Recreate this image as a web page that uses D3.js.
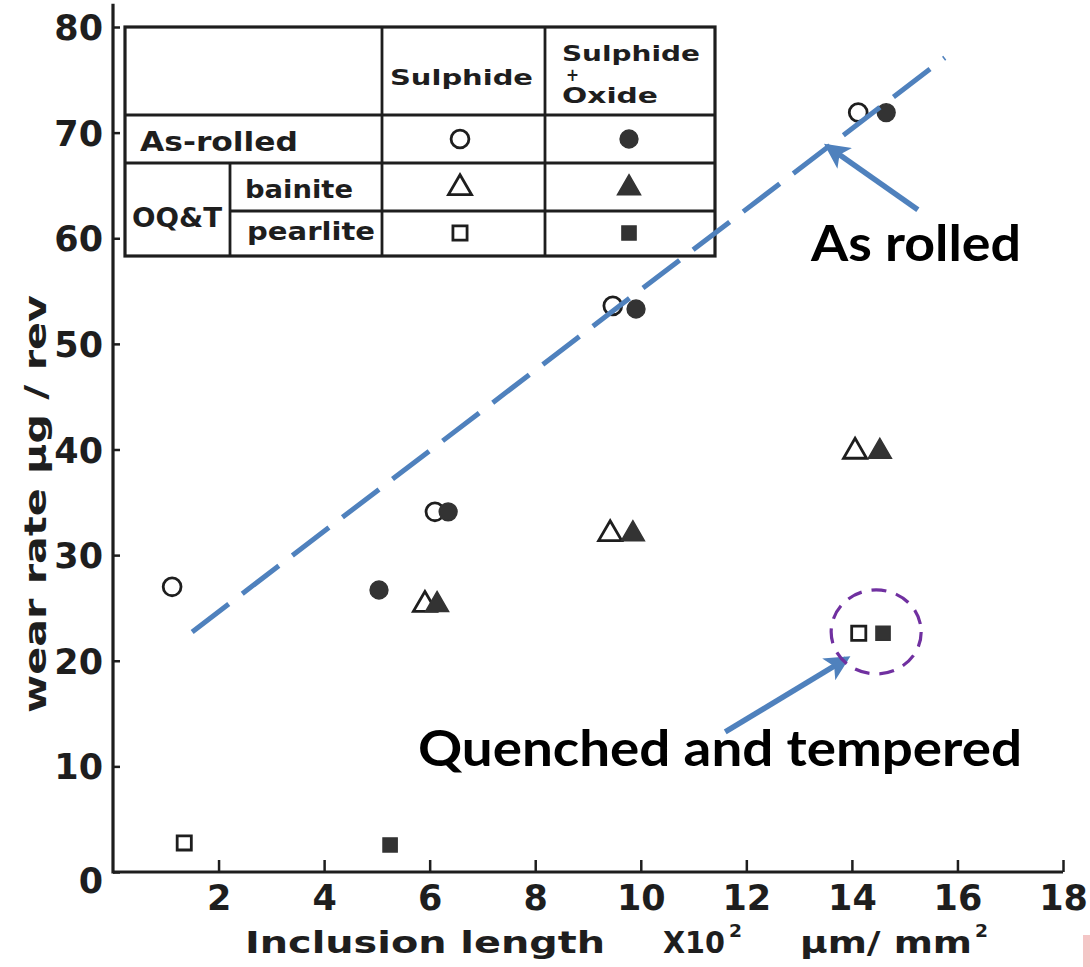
<!DOCTYPE html>
<html><head><meta charset="utf-8">
<script src="https://cdn.jsdelivr.net/npm/d3@7"></script>
<style>body{margin:0;background:#fff}svg{display:block}</style>
</head><body>
<svg id="c" width="1090" height="967"></svg>
<script>
// ---- data ----
const xTicks = [2, 4, 6, 8, 10, 12, 14, 16, 18];
const yTicks = [0, 10, 20, 30, 40, 50, 60, 70, 80];
const sulphideAsRolledX = [1.12, 6.1, 9.47, 14.12];
const sulphideAsRolledY = [27.0, 34.1, 53.6, 71.9];
const oxideAsRolledX = [5.04, 6.35, 9.91, 14.65];
const oxideAsRolledY = [26.7, 34.1, 53.3, 71.9];
const sulphideBainiteX = [5.91, 9.42, 14.06];
const sulphideBainiteY = [25.3, 32.0, 39.8];
const oxideBainiteX = [6.14, 9.85, 14.53];
const oxideBainiteY = [25.3, 32.0, 39.8];
const sulphidePearliteX = [1.35, 14.13];
const sulphidePearliteY = [2.75, 22.6];
const oxidePearliteX = [5.25, 14.59];
const oxidePearliteY = [2.56, 22.6];
const trendLine = [[1.50, 22.73], [15.76, 77.08]];
const asRolledArrow = [[15.25, 62.69], [13.55, 68.66]];
const qtArrow = [[11.6, 13.26], [13.89, 20.17]];
const qtCircle = [14.46, 22.73];
const legendRows = ["As-rolled", "bainite", "pearlite"];
const legendShapes = ["circle", "triangle", "square"];

// ---- scales ----
const svg = d3.select("#c");
const x = d3.scaleLinear([0, 18], [113, 1063]);
const y = d3.scaleLinear([0, 80], [872, 27]);
const ink = "#1e1e1e", fillInk = "#333";
const tickFont = "'DejaVu Sans', sans-serif";

svg.append("rect").attr("width", 1090).attr("height", 967).attr("fill", "#fff");
svg.append("rect").attr("x", 1083).attr("y", 935).attr("width", 7).attr("height", 32).attr("fill", "#f4c6c6");

// axes
const gx = svg.append("g").attr("transform", `translate(0,${y(0)})`)
  .call(d3.axisBottom(x).tickValues(xTicks).tickSize(-12).tickSizeOuter(0).tickPadding(13).tickFormat(d3.format("d")));
const gy = svg.append("g").attr("transform", `translate(${x(0)},0)`)
  .call(d3.axisLeft(y).tickValues(yTicks).tickSize(-7).tickSizeOuter(0).tickPadding(10).tickFormat(d3.format("d")));
[gx, gy].forEach(g => {
  g.select(".domain").remove();
  g.selectAll(".tick line").attr("stroke", ink).attr("stroke-width", 2.5);
  g.selectAll(".tick text").attr("fill", ink).style("font-family", tickFont)
    .style("font-weight", "bold").style("font-size", "35px");
});
gy.selectAll(".tick text").attr("dy", d => d === 0 ? "0.58em" : "0.36em");
svg.append("line").attr("x1", x(0)).attr("x2", x(18)).attr("y1", y(0)).attr("y2", y(0))
  .attr("stroke", ink).attr("stroke-width", 3.2);
svg.append("line").attr("x1", x(0)).attr("x2", x(0)).attr("y1", y(0) + 1.5).attr("y2", y(82.2))
  .attr("stroke", ink).attr("stroke-width", 3.2);

// axis titles
const lab = (t, px, py, len, size) => svg.append("text").attr("x", px).attr("y", py)
  .attr("fill", ink).style("font-family", tickFont).style("font-weight", "bold")
  .style("font-size", size + "px").attr("textLength", len).attr("lengthAdjust", "spacingAndGlyphs").text(t);
lab("Inclusion length", 245, 953, 360, 30);
lab("X10", 663, 953, 62, 31);
lab("2", 729, 937, 13, 18);
lab("µm/ mm", 800, 953, 172, 30);
lab("2", 975, 937, 13, 18);
svg.append("text").attr("transform", "translate(46,504) rotate(-90)").attr("text-anchor", "middle")
  .attr("fill", ink).style("font-family", tickFont).style("font-weight", "bold").style("font-size", "30px")
  .attr("textLength", 418).attr("lengthAdjust", "spacingAndGlyphs").text("wear  rate  µg / rev");

// markers
function sym(shape) {
  const t = shape === "circle" ? d3.symbolCircle : shape === "triangle" ? d3.symbolTriangle : d3.symbolSquare;
  const a = shape === "circle" ? 250 : shape === "triangle" ? 230 : 200;
  return d3.symbol(t, a)();
}
const series = [
  {xs: sulphideAsRolledX, ys: sulphideAsRolledY, shape: "circle", filled: false},
  {xs: oxideAsRolledX, ys: oxideAsRolledY, shape: "circle", filled: true},
  {xs: sulphideBainiteX, ys: sulphideBainiteY, shape: "triangle", filled: false},
  {xs: oxideBainiteX, ys: oxideBainiteY, shape: "triangle", filled: true},
  {xs: sulphidePearliteX, ys: sulphidePearliteY, shape: "square", filled: false},
  {xs: oxidePearliteX, ys: oxidePearliteY, shape: "square", filled: true}
];
function drawSym(g, shape, filled, px, py) {
  g.append("path").attr("d", sym(shape)).attr("transform", `translate(${px},${py})`)
    .attr("fill", filled ? fillInk : "#fff").attr("stroke", filled ? fillInk : ink)
    .attr("stroke-width", filled ? 1.5 : 2.8).attr("stroke-linejoin", "miter");
}
const gm = svg.append("g");
series.filter(s => !s.filled).concat(series.filter(s => s.filled)).forEach(s =>
  s.xs.forEach((v, i) => drawSym(gm, s.shape, s.filled, x(v), y(s.ys[i]))));

// legend table
const gl = svg.append("g").attr("stroke", ink).attr("fill", "none");
gl.append("rect").attr("x", 125).attr("y", 27).attr("width", 590).attr("height", 229).attr("stroke-width", 3.2).attr("fill", "#fff");
[[125, 715, 115], [125, 715, 163], [230, 715, 211]].forEach(([a, b, yy]) =>
  gl.append("line").attr("x1", a).attr("x2", b).attr("y1", yy).attr("y2", yy).attr("stroke-width", 2.8));
[[382, 27, 256], [545, 27, 256], [230, 163, 256]].forEach(([xx, a, b]) =>
  gl.append("line").attr("x1", xx).attr("x2", xx).attr("y1", a).attr("y2", b).attr("stroke-width", 2.8));
const lt = (t, px, py, len, size) => svg.append("text").attr("x", px).attr("y", py).attr("fill", ink)
  .style("font-family", tickFont).style("font-weight", "bold").style("font-size", size + "px")
  .attr("textLength", len).attr("lengthAdjust", "spacingAndGlyphs").text(t);
lt("Sulphide", 390, 85, 143, 21);
lt("Sulphide", 562, 61, 138, 21);
lt("+", 566, 81, 13, 17);
lt("Oxide", 562, 103, 96, 21);
lt(legendRows[0], 140, 151, 158, 26);
lt("OQ&T", 132, 227, 90, 27);
lt(legendRows[1], 245, 198, 108, 24);
lt(legendRows[2], 247, 240, 128, 24);
const rowY = [139, 188, 233];
legendShapes.forEach((s, i) => {
  drawSym(svg, s, false, 460, rowY[i]);
  drawSym(svg, s, true, 629, rowY[i]);
});

// annotations
const blue = "#4f81bd";
svg.append("line").attr("x1", x(trendLine[0][0])).attr("y1", y(trendLine[0][1]))
  .attr("x2", x(trendLine[1][0])).attr("y2", y(trendLine[1][1]))
  .attr("stroke", blue).attr("stroke-width", 5).attr("stroke-dasharray", "46 17");
svg.append("defs").append("marker").attr("id", "ah").attr("viewBox", "0 0 10 10").attr("refX", 8).attr("refY", 5)
  .attr("markerWidth", 4.6).attr("markerHeight", 4.6).attr("orient", "auto").attr("markerUnits", "strokeWidth")
  .append("path").attr("d", "M0,0 L10,5 L0,10 L2.5,5 z").attr("fill", blue);
[asRolledArrow, qtArrow].forEach(a => svg.append("line")
  .attr("x1", x(a[0][0])).attr("y1", y(a[0][1])).attr("x2", x(a[1][0])).attr("y2", y(a[1][1]))
  .attr("stroke", blue).attr("stroke-width", 5.5).attr("marker-end", "url(#ah)"));
svg.append("ellipse").attr("cx", x(qtCircle[0])).attr("cy", y(qtCircle[1])).attr("rx", 45).attr("ry", 42)
  .attr("fill", "none").attr("stroke", "#7030a0").attr("stroke-width", 3.2).attr("stroke-dasharray", "15 10");
const ann = (t, px, py, len) => svg.append("text").attr("x", px).attr("y", py).attr("fill", "#000")
  .style("font-family", "Lato, 'Open Sans', sans-serif").style("font-weight", "bold").style("font-size", "50px")
  .attr("textLength", len).attr("lengthAdjust", "spacingAndGlyphs").text(t);
ann("As rolled", 811, 261, 210);
ann("Quenched and tempered", 418, 766, 604);
</script>
</body></html>
